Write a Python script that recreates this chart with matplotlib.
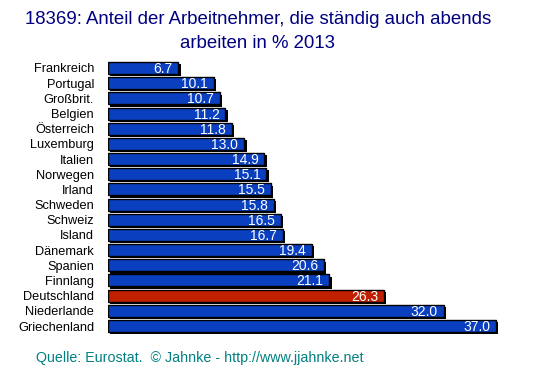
import matplotlib
matplotlib.use("Agg")
import matplotlib.pyplot as plt
import matplotlib.patheffects as pe

countries = ["Frankreich", "Portugal", "Großbrit.", "Belgien", "Österreich", "Luxemburg",
             "Italien", "Norwegen", "Irland", "Schweden", "Schweiz", "Island",
             "Dänemark", "Spanien", "Finnlang", "Deutschland", "Niederlande", "Griechenland"]
values = [6.7, 10.1, 10.7, 11.2, 11.8, 13.0, 14.9, 15.1, 15.5, 15.8, 16.5, 16.7,
          19.4, 20.6, 21.1, 26.3, 32.0, 37.0]
highlight = "Deutschland"

plt.rcParams['font.family'] = ['Liberation Sans', 'DejaVu Sans']

W, H = 553, 376
fig = plt.figure(figsize=(W/100, H/100), dpi=100)
x0 = 108; px_per_unit = 10.49
xmax = 42
ax_w = xmax * px_per_unit
top = 60.4; bottom = 333.6
ax = fig.add_axes([x0/W, 1 - bottom/H, ax_w/W, (bottom-top)/H])

colors = ["#C02000" if c == highlight else "#0A40C0" for c in countries]
ypos = list(range(len(countries)))
bars = ax.barh(ypos, values, height=0.79, color=colors, edgecolor="black", linewidth=1.0)
for b in bars:
    b.set_path_effects([pe.SimplePatchShadow(offset=(1.6, -1.6), shadow_rgbFace="black", alpha=1.0),
                        pe.Normal()])

for y, v in zip(ypos, values):
    ax.annotate(f"{v:.1f}", xy=(v, y), xytext=(-6, -1), textcoords="offset pixels",
                ha="right", va="center", color="white", fontsize=10)

ax.set_xlim(0, xmax)
ax.set_ylim(len(countries) - 0.5, -0.5)
ax.set_yticks(ypos)
ax.set_yticklabels(countries, fontsize=9.2)
ax.tick_params(axis="y", length=0, pad=10)
ax.set_xticks([])
for s in ax.spines.values():
    s.set_visible(False)

fig.text(258/W, 1 - 19/H, "18369: Anteil der Arbeitnehmer, die ständig auch abends",
         ha="center", va="center", color="#000080", fontsize=13.4)
fig.text(258/W, 1 - 44/H, "arbeiten in % 2013",
         ha="center", va="center", color="#000080", fontsize=13.4)
fig.text(36/W, 1 - 358/H, "Quelle: Eurostat.  © Jahnke - http://www.jjahnke.net",
         ha="left", va="center", color="#008080", fontsize=10.3)

fig.savefig("out.png", dpi=100)
